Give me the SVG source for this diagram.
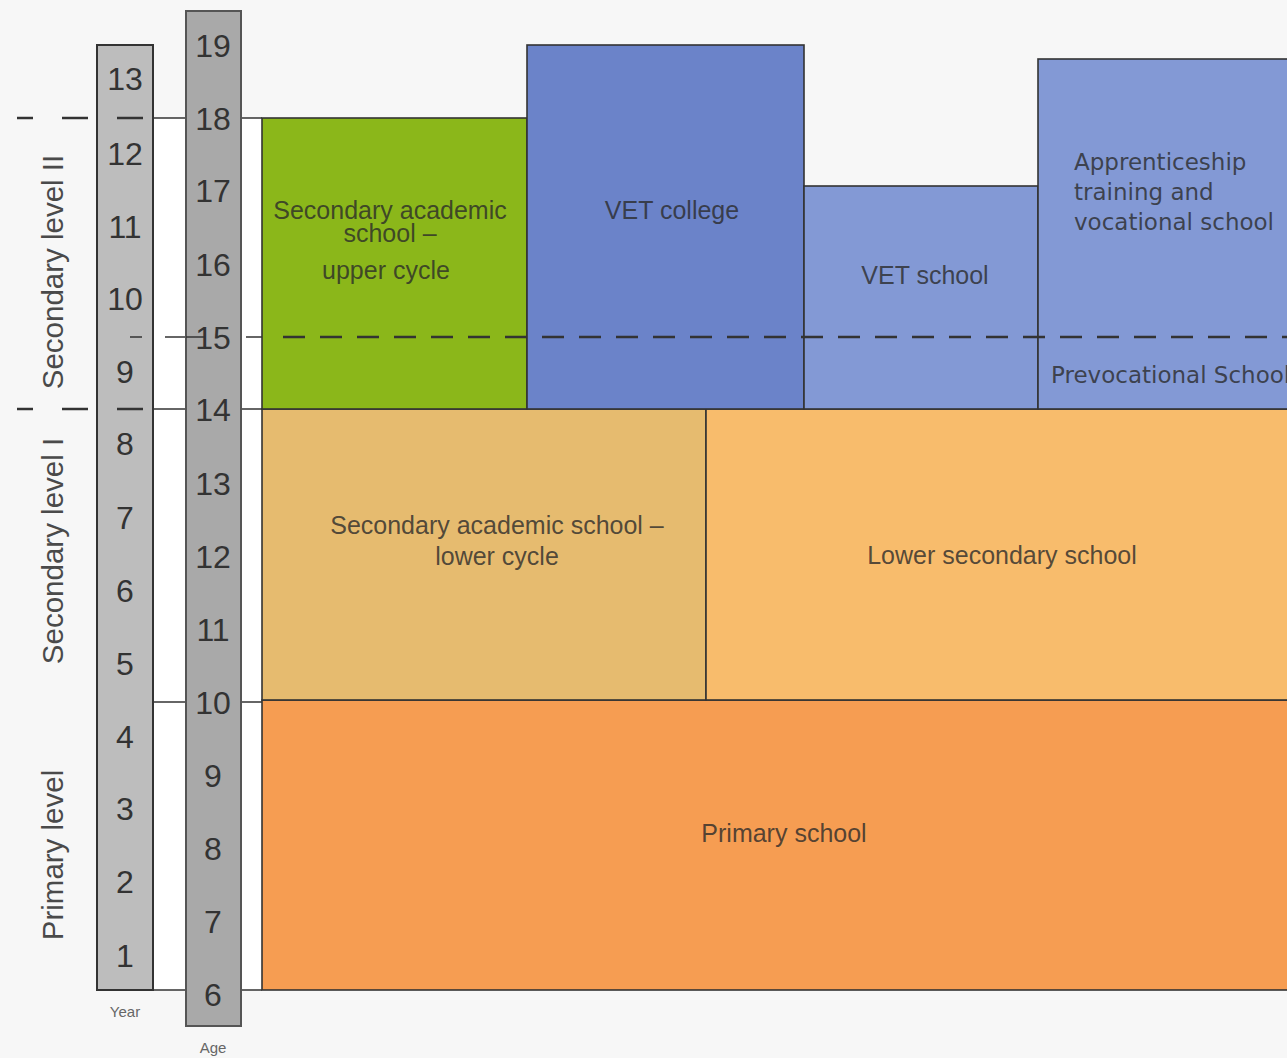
<svg xmlns="http://www.w3.org/2000/svg" width="1287" height="1058" viewBox="0 0 1287 1058">
<style>
.num{font-family:"Liberation Sans",Arial,sans-serif;font-size:32px;fill:#333;text-anchor:middle}
.lvl{font-family:"Liberation Sans",Arial,sans-serif;font-size:29.5px;fill:#4a4a4a;text-anchor:middle}
.lbl{font-family:"Liberation Sans",Arial,sans-serif;font-size:25px;fill:#2a2a2a;fill-opacity:0.8;text-anchor:middle}
.dv{font-family:"DejaVu Sans",sans-serif;font-size:23px;fill:#2a2a2a;fill-opacity:0.8}
.box{stroke:#333;stroke-width:1.6}
.ln{stroke:#333;stroke-width:1.5;fill:none}
.dash{stroke:#333;stroke-width:2.5;fill:none}
.cap{font-family:"Liberation Sans",Arial,sans-serif;font-size:15px;fill:#666;text-anchor:middle}
</style>
<rect x="0" y="0" width="1287" height="1058" fill="#f7f7f7"/>
<rect x="153" y="118" width="109" height="872" fill="#ffffff"/>

<g id="connectors">
<line class="ln" x1="153" y1="118" x2="186" y2="118"/>
<line class="ln" x1="241" y1="118" x2="262" y2="118"/>
<line class="ln" x1="153" y1="409" x2="186" y2="409"/>
<line class="ln" x1="241" y1="409" x2="262" y2="409"/>
<line class="ln" x1="153" y1="702" x2="186" y2="702"/>
<line class="ln" x1="241" y1="702" x2="262" y2="702"/>
<line class="ln" x1="153" y1="990" x2="186" y2="990"/>
<line class="ln" x1="241" y1="990" x2="262" y2="990"/>
<line class="ln" x1="165" y1="337" x2="205" y2="337"/>
<line class="ln" x1="246" y1="337" x2="262" y2="337"/>
<line class="dash" x1="17" y1="118" x2="33" y2="118"/>
<line class="dash" x1="62" y1="118" x2="88" y2="118"/>
<line class="dash" x1="17" y1="409" x2="33" y2="409"/>
<line class="dash" x1="62" y1="409" x2="88" y2="409"/>
</g>

<g id="year-bar">
<rect x="97" y="45" width="56" height="945" fill="#bdbdbd" stroke="#333" stroke-width="2"/>
<line class="dash" x1="117" y1="118" x2="143" y2="118"/>
<line class="dash" x1="117" y1="409" x2="143" y2="409"/>
<line class="ln" x1="130" y1="337" x2="142" y2="337"/>
<text class="num" x="125" y="90">13</text>
<text class="num" x="125" y="165">12</text>
<text class="num" x="125" y="238">11</text>
<text class="num" x="125" y="310">10</text>
<text class="num" x="125" y="383">9</text>
<text class="num" x="125" y="455">8</text>
<text class="num" x="125" y="529">7</text>
<text class="num" x="125" y="602">6</text>
<text class="num" x="125" y="675">5</text>
<text class="num" x="125" y="748">4</text>
<text class="num" x="125" y="820">3</text>
<text class="num" x="125" y="893">2</text>
<text class="num" x="125" y="967">1</text>
<text class="cap" x="125" y="1017">Year</text>
</g>

<g id="age-bar">
<rect x="186" y="11" width="55" height="1015" fill="#a9a9a9" stroke="#555" stroke-width="2"/>
<text class="num" x="213" y="57">19</text>
<text class="num" x="213" y="130">18</text>
<text class="num" x="213" y="202">17</text>
<text class="num" x="213" y="276">16</text>
<text class="num" x="213" y="349">15</text>
<text class="num" x="213" y="421">14</text>
<text class="num" x="213" y="495">13</text>
<text class="num" x="213" y="568">12</text>
<text class="num" x="213" y="641">11</text>
<text class="num" x="213" y="714">10</text>
<text class="num" x="213" y="787">9</text>
<text class="num" x="213" y="860">8</text>
<text class="num" x="213" y="933">7</text>
<text class="num" x="213" y="1006">6</text>
<line class="ln" x1="186" y1="337" x2="205" y2="337"/>
<text class="cap" x="213" y="1053">Age</text>
</g>

<g id="level-labels">
<text class="lvl" transform="translate(63,272) rotate(-90)">Secondary level II</text>
<text class="lvl" transform="translate(63,551) rotate(-90)">Secondary level I</text>
<text class="lvl" transform="translate(63,855) rotate(-90)">Primary level</text>
</g>

<g id="primary-school">
<rect class="box" x="262" y="700" width="1030" height="290" fill="#f69d52"/>
<text class="lbl" x="784" y="842">Primary school</text>
</g>

<g id="lower-academic">
<rect class="box" x="262" y="409" width="444" height="291" fill="#e6bb6f"/>
<text class="lbl" x="497" y="534">Secondary academic school –</text>
<text class="lbl" x="497" y="565">lower cycle</text>
</g>

<g id="lower-secondary">
<rect class="box" x="706" y="409" width="586" height="291" fill="#f8bc6c"/>
<text class="lbl" x="1002" y="564">Lower secondary school</text>
</g>

<g id="upper-academic">
<rect class="box" x="262" y="118" width="265" height="291" fill="#8bb71a"/>
<text class="lbl" x="390" y="219">Secondary academic</text>
<text class="lbl" x="390" y="242">school –</text>
<text class="lbl" x="386" y="279">upper cycle</text>
</g>

<g id="vet-college">
<rect class="box" x="527" y="45" width="277" height="364" fill="#6b83c9"/>
<text class="lbl" x="672" y="219">VET college</text>
</g>

<g id="vet-school">
<rect class="box" x="804" y="186" width="234" height="223" fill="#8399d5"/>
<text class="lbl" x="925" y="284">VET school</text>
</g>

<g id="apprenticeship">
<rect class="box" x="1038" y="59" width="254" height="350" fill="#8399d5"/>
<text class="dv" x="1074" y="170">Apprenticeship</text>
<text class="dv" x="1074" y="200">training and</text>
<text class="dv" x="1074" y="230">vocational school</text>
<text class="dv" x="1051" y="383">Prevocational School</text>
</g>

<g id="dashed-divider">
<line class="dash" x1="283" y1="337" x2="1287" y2="337" stroke-dasharray="22 15"/>
</g>
</svg>
